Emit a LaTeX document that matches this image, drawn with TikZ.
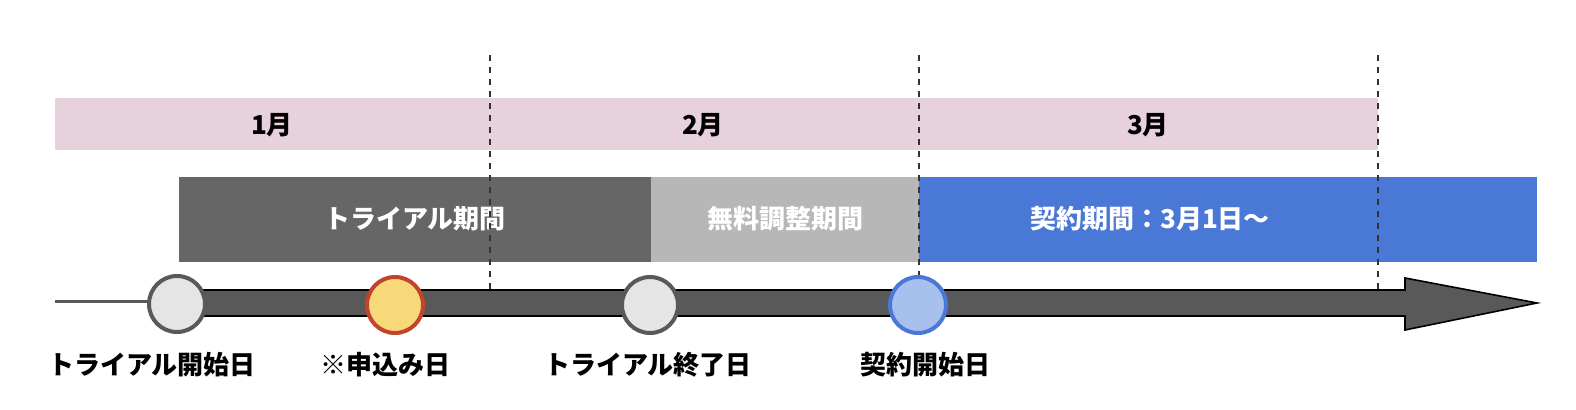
\documentclass[tikz,border=0pt]{standalone}
\usepackage{fontspec}
\setmainfont{Noto Sans CJK JP}
\usetikzlibrary{positioning}
\definecolor{monthpink}{HTML}{E6D1DD}
\definecolor{trialgray}{HTML}{666666}
\definecolor{freegray}{HTML}{B7B7B7}
\definecolor{contractblue}{HTML}{4A78D6}
\definecolor{lineblue}{HTML}{A8C0EE}
\definecolor{axisgray}{HTML}{595959}
\definecolor{dotyellow}{HTML}{F8D97A}
\definecolor{dotred}{HTML}{C0452B}
\tikzset{
  month/.style={font=\bfseries\fontsize{13}{15}\selectfont, text=black},
  period/.style={font=\bfseries\fontsize{13}{15}\selectfont, text=white},
  daylabel/.style={font=\bfseries\fontsize{13}{15}\selectfont, text=black},
  dot/.style={circle, minimum size=28pt, inner sep=0pt, line width=2pt},
  divider/.style={dashed, black!80, line width=0.6pt}
}
\begin{document}
\begin{tikzpicture}[x=0.5pt, y=-0.5pt]
    \useasboundingbox (0,0) rectangle (1576,410);

    % Month band
    \fill[monthpink] (55,98) rectangle (1378,150);
    \foreach \x/\m in {272/1月, 703/2月, 1148/3月} {
        \node[month] (m\x) at (\x,125) {\m};
    }

    % Periods
    \fill[trialgray] (179,177) rectangle (651,262);
    \fill[freegray] (651,177) rectangle (919,262);
    \fill[contractblue] (919,177) rectangle (1537,262);
    \node[period] (trial) at (415,219) {トライアル期間};
    \node[period] (free) at (785,219) {無料調整期間};
    \node[period] (contract) at (1150,219) {契約期間：3月1日〜};

    % Month dividers
    \foreach \x in {490, 919, 1378} {
        \draw[divider] (\x,55) -- (\x,290);
    }

    % Timeline arrow
    \coordinate (origin) at (55,302);
    \draw[axisgray, line width=1.5pt] (origin) -- (177,302);
    \filldraw[fill=axisgray, draw=black, line width=0.8pt]
        (177,290) -- (1405,290) -- (1405,278) -- (1537,303)
        -- (1405,330) -- (1405,316) -- (177,316) -- cycle;

    % Milestones
    \node[dot, fill=black!10, draw=axisgray] (start) at (177,304) {};
    \node[dot, fill=dotyellow, draw=dotred] (apply) at (395,305) {};
    \node[dot, fill=black!10, draw=axisgray] (end) at (650,305) {};
    \node[dot, fill=lineblue, draw=contractblue] (begin) at (918,305) {};

    \node[daylabel] (startlbl) at (152,365) {トライアル開始日};
    \node[daylabel] (applylbl) at (385,365) {※申込み日};
    \node[daylabel] (endlbl) at (648,365) {トライアル終了日};
    \node[daylabel] (beginlbl) at (925,365) {契約開始日};
\end{tikzpicture}
\end{document}
